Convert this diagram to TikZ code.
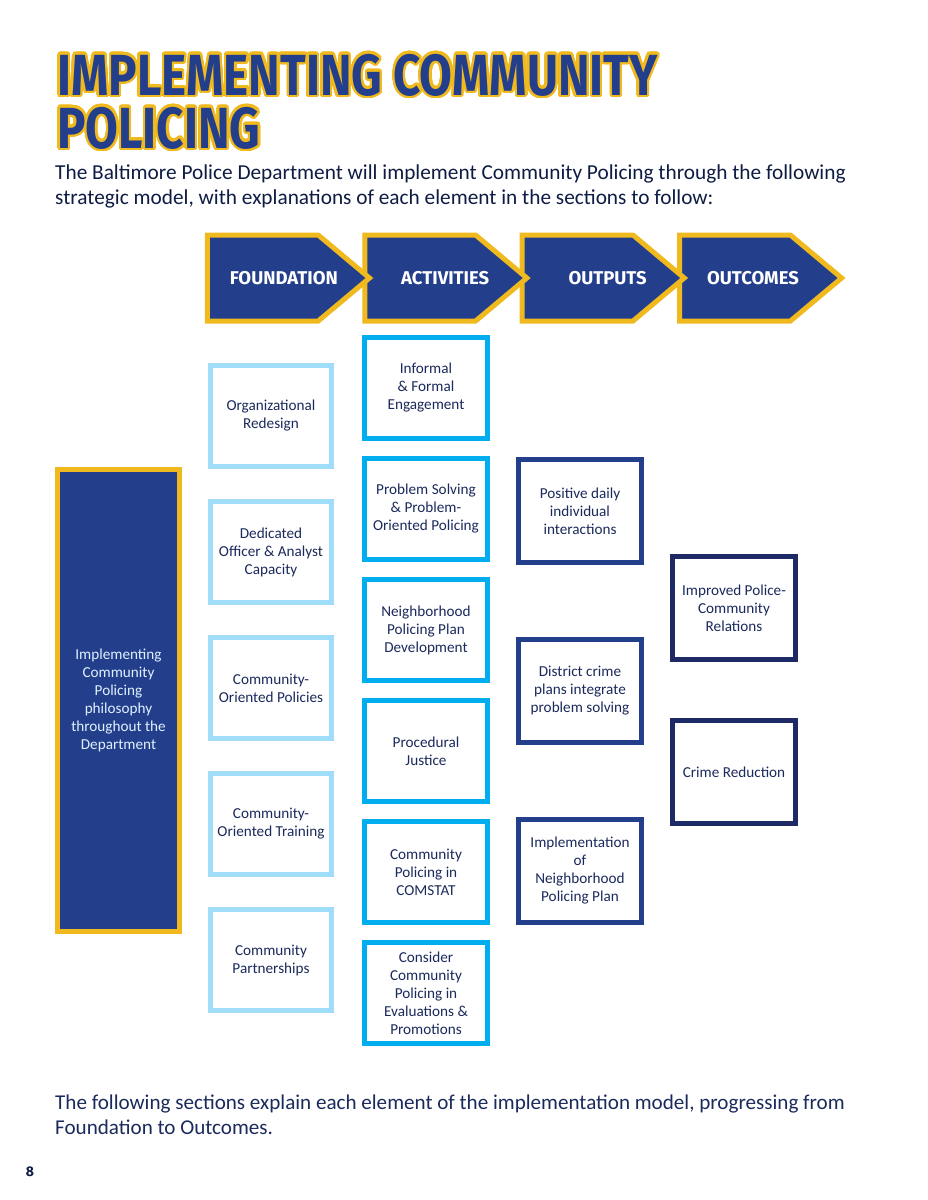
\documentclass[tikz,border=0pt]{standalone}
\usepackage{fontspec}
\setmainfont{Carlito}
\newfontfamily\headfont{Fira Sans}
\usepackage{xcolor}
\usepackage{contour}
\usepackage{tikz}
\usetikzlibrary{shapes.symbols,positioning}
\definecolor{bpdnavy}{RGB}{35, 63, 140}
\definecolor{bpdyellow}{RGB}{240, 185, 30}
\definecolor{bpdsky}{RGB}{159, 221, 248}
\definecolor{bpdcyan}{RGB}{0, 174, 239}
\definecolor{bpddark}{RGB}{30, 42, 102}
\definecolor{bpdtext}{RGB}{27, 42, 92}
\definecolor{bpdbody}{RGB}{14, 28, 68}
\definecolor{bpdlite}{RGB}{224, 240, 255}
\contourlength{2.8pt}
\contournumber{32}

\begin{document}
\begin{tikzpicture}[x=1pt, y=-1pt, node distance=30pt, >=stealth,
    chev/.style={signal, signal to=east, signal pointer angle=80, draw=bpdyellow, line width=5pt, fill=bpdnavy, minimum width=162pt, minimum height=86pt},
    chevlabel/.style={inner sep=0, text=white, font=\headfont\bfseries\fontsize{18.5}{18.5}\selectfont},
    box/.style={draw, line width=5pt, fill=white, minimum width=123pt, minimum height=101pt, inner sep=2pt, align=center, text=bpdtext, font=\fontsize{15.2}{18}\selectfont},
    found/.style={box, draw=bpdsky, minimum width=121pt},
    activ/.style={box, draw=bpdcyan},
    outp/.style={box, draw=bpdnavy, minimum height=103pt},
    outc/.style={box, draw=bpddark, minimum height=103pt}]
        \useasboundingbox (0,0) rectangle (927,1200);

        % Title
        \node[anchor=base west, inner sep=0, text=bpdnavy, font=\headfont\bfseries\fontsize{58}{58}\selectfont] (title1) at (57,95) {\scalebox{0.82}[1]{\contour{bpdyellow}{IMPLEMENTING COMMUNITY}}};
        \node[anchor=base west, inner sep=0, text=bpdnavy, font=\headfont\bfseries\fontsize{58}{58}\selectfont] (title2) at (57,148) {\scalebox{0.82}[1]{\contour{bpdyellow}{POLICING}}};
        \node[anchor=north west, inner sep=0, align=left, text=bpdbody, font=\fontsize{21.3}{24.5}\selectfont] (intro) at (55,165) {The Baltimore Police Department will implement Community Policing through the following\\strategic model, with explanations of each element in the sections to follow:};

        % Chevrons
        \node[chev] (hdoutc) at (735,278) {};
        \node[chev, left=-11pt of hdoutc] (hdoutp) {};
        \node[chev, left=-11pt of hdoutp] (hdactiv) {};
        \node[chev, left=-11pt of hdactiv] (hdfound) {};
        \node[chevlabel] (lbfound) at ([xshift=21pt]hdfound.center) {FOUNDATION};
        \node[chevlabel] (lbactiv) at ([xshift=25pt]hdactiv.center) {ACTIVITIES};
        \node[chevlabel] (lboutp) at ([xshift=30pt]hdoutp.center) {OUTPUTS};
        \node[chevlabel] (lboutc) at ([xshift=18pt]hdoutc.center) {OUTCOMES};

        \node[draw=bpdyellow, line width=5pt, fill=bpdnavy, minimum width=122pt, minimum height=462pt, align=center, text=bpdlite, font=\fontsize{15.2}{18}\selectfont] (philo) at (118.5,700.5) {Implementing\\Community\\Policing\\philosophy\\throughout the\\Department};

        % Foundation
        \node[found] (f1) at (271,416) {Organizational\\Redesign};
        \node[found, below=of f1] (f2) {Dedicated\\Officer \& Analyst\\Capacity};
        \node[found, below=of f2] (f3) {Community-\\Oriented Policies};
        \node[found, below=of f3] (f4) {Community-\\Oriented Training};
        \node[found, below=of f4] (f5) {Community\\Partnerships};

        % Activities
        \node[activ] (a1) at (426,388) {Informal\\\& Formal\\Engagement};
        \node[activ, below=15pt of a1] (a2) {Problem Solving\\\& Problem-\\Oriented Policing};
        \node[activ, below=15pt of a2] (a3) {Neighborhood\\Policing Plan\\Development};
        \node[activ, below=15pt of a3] (a4) {Procedural\\Justice};
        \node[activ, below=15pt of a4] (a5) {Community\\Policing in\\COMSTAT};
        \node[activ, below=15pt of a5] (a6) {Consider\\Community\\Policing in\\Evaluations \&\\Promotions};

        % Outputs and outcomes
        \node[outp] (o1) at (580,511) {Positive daily\\individual\\interactions};
        \node[outp, below=72pt of o1] (o2) {District crime\\plans integrate\\problem solving};
        \node[outp, below=72pt of o2] (o3) {Implementation\\of\\Neighborhood\\Policing Plan};
        \node[outc] (r1) at (734,608) {Improved Police-\\Community\\Relations};
        \node[outc, below=56pt of r1] (r2) {Crime Reduction};

        \node[anchor=north west, inner sep=0, align=left, text=bpdtext, font=\fontsize{21.1}{25}\selectfont] (closing) at (55,1095) {The following sections explain each element of the implementation model, progressing from\\Foundation to Outcomes.};
        \node[inner sep=0, text=bpdbody, font=\headfont\bfseries\fontsize{14}{14}\selectfont] (pagenum) at (30,1172) {8};
    \end{tikzpicture}
\end{document}
